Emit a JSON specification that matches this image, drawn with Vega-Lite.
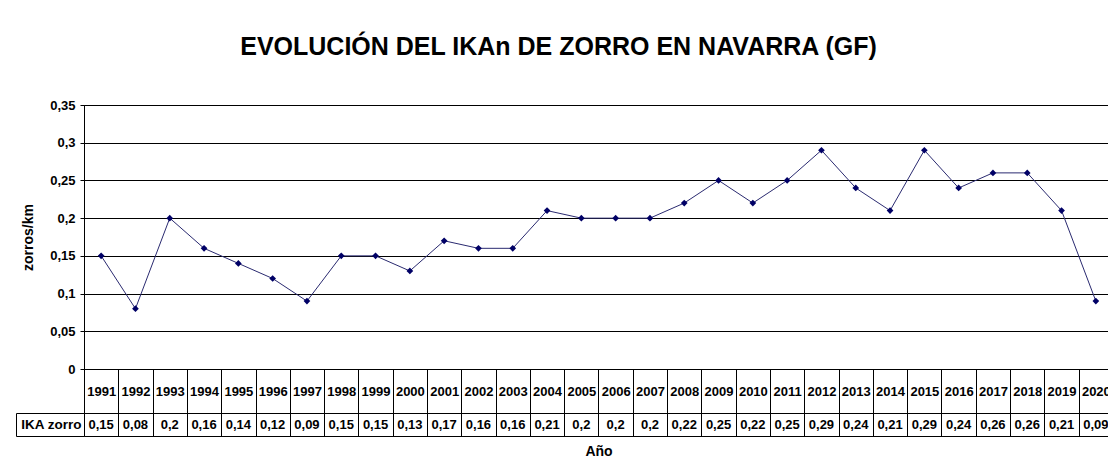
{
  "$schema": "https://vega.github.io/schema/vega-lite/v6.json",
  "padding": {"left": 15, "top": 34, "right": 0, "bottom": 0},
  "background": "white",
  "bounds": "flush",
  "spacing": 44,
  "title": {"text": "EVOLUCIÓN DEL IKAn DE ZORRO EN NAVARRA (GF)", "fontSize": 25, "font": "Liberation Sans", "fontWeight": "bold", "color": "#000", "anchor": "middle", "offset": 39, "dx": -6},
  "data": {"values": [
    {"year": "1991", "v": 0.15}, {"year": "1992", "v": 0.08}, {"year": "1993", "v": 0.2}, {"year": "1994", "v": 0.16},
    {"year": "1995", "v": 0.14}, {"year": "1996", "v": 0.12}, {"year": "1997", "v": 0.09}, {"year": "1998", "v": 0.15},
    {"year": "1999", "v": 0.15}, {"year": "2000", "v": 0.13}, {"year": "2001", "v": 0.17}, {"year": "2002", "v": 0.16},
    {"year": "2003", "v": 0.16}, {"year": "2004", "v": 0.21}, {"year": "2005", "v": 0.2}, {"year": "2006", "v": 0.2},
    {"year": "2007", "v": 0.2}, {"year": "2008", "v": 0.22}, {"year": "2009", "v": 0.25}, {"year": "2010", "v": 0.22},
    {"year": "2011", "v": 0.25}, {"year": "2012", "v": 0.29}, {"year": "2013", "v": 0.24}, {"year": "2014", "v": 0.21},
    {"year": "2015", "v": 0.29}, {"year": "2016", "v": 0.24}, {"year": "2017", "v": 0.26}, {"year": "2018", "v": 0.26},
    {"year": "2019", "v": 0.21}, {"year": "2020", "v": 0.09}
  ]},
  "config": {
    "locale": {"number": {"decimal": ",", "thousands": ".", "grouping": [3], "currency": ["", " €"]}},
    "view": {"stroke": "#000", "strokeWidth": 1},
    "font": "Liberation Sans",
    "axis": {
      "domainColor": "#000", "tickColor": "#000", "labelColor": "#000", "titleColor": "#000",
      "labelFont": "Liberation Sans", "titleFont": "Liberation Sans",
      "labelFontWeight": "bold", "labelFontSize": 13, "titleFontSize": 14, "titleFontWeight": "bold",
      "gridColor": "#000", "gridOpacity": 1, "domainWidth": 1, "tickWidth": 1, "gridWidth": 1
    }
  },
  "vconcat": [
    {
      "width": 1029,
      "height": 264,
      "encoding": {
        "x": {"field": "year", "type": "ordinal", "sort": null,
          "scale": {"type": "band", "paddingInner": 0, "paddingOuter": 0},
          "axis": {"title": null, "tickBand": "extent", "tickSize": 44, "labelPadding": -22, "labelBaseline": "middle", "labelAngle": 0, "labelOverlap": false, "domain": true, "grid": false}},
        "y": {"field": "v", "type": "quantitative",
          "scale": {"domain": [0, 0.35], "nice": false, "zero": true},
          "axis": {"title": "zorros/km", "values": [0, 0.05, 0.1, 0.15, 0.2, 0.25, 0.3, 0.35], "format": ".2~f", "grid": true, "tickSize": 4, "labelPadding": 5, "titlePadding": 14, "domain": true}}
      },
      "layer": [
        {"mark": {"type": "line", "color": "#2a2a70", "strokeWidth": 1}},
        {"mark": {"type": "point", "shape": "diamond", "filled": true, "color": "#000066", "size": 45, "opacity": 1}}
      ]
    },
    {
      "width": 1029,
      "height": 23,
      "mark": {"type": "text", "fontSize": 13, "fontWeight": "bold", "color": "#000", "font": "Liberation Sans"},
      "encoding": {
        "x": {"field": "year", "type": "ordinal", "sort": null,
          "scale": {"type": "band", "paddingInner": 0, "paddingOuter": 0},
          "axis": {"grid": true, "tickBand": "extent", "labels": false, "ticks": false, "domain": false, "title": "Año", "titlePadding": 8}},
        "y": {"datum": "IKA zorro", "type": "nominal",
          "scale": {"type": "band", "paddingInner": 0, "paddingOuter": 0},
          "axis": {"offset": 68, "tickSize": -68, "tickBand": "extent", "ticks": true, "domain": true, "labelPadding": 3, "labelFontSize": 13.5, "title": null, "grid": false}},
        "text": {"field": "v", "type": "quantitative", "format": ".2~f"}
      }
    }
  ]
}
